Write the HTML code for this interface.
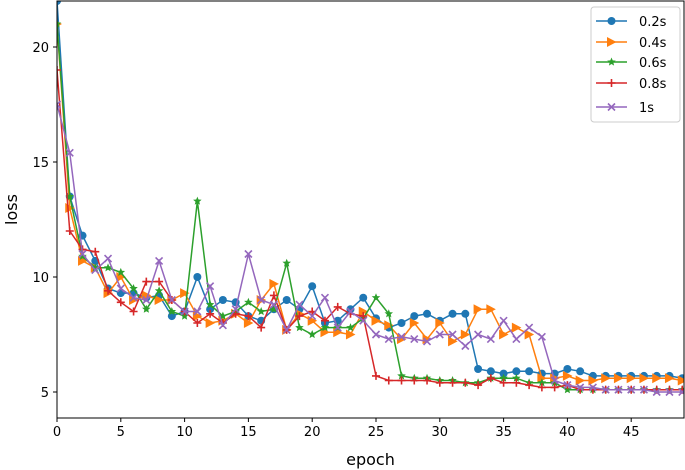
<!DOCTYPE html>
<html><head><meta charset="utf-8"><style>
body{margin:0;background:#fff}
svg{display:block;font-family:"DejaVu Sans","Liberation Sans",sans-serif}
</style></head><body>
<svg id="chart" width="685" height="470">
<g id="plot"></g>
<g id="axes"></g>
<g id="legend"></g>
</svg>
<script>
const epochs = Array.from({length:50},(_,i)=>i);
const s02 = [22,13.5,11.8,10.7,9.5,9.3,9.3,9.1,9.2,8.3,8.5,10,8.6,9,8.9,8.3,8.1,8.6,9,8.6,9.6,8,8.1,8.6,9.1,8.2,7.8,8,8.3,8.4,8.1,8.4,8.4,6,5.9,5.8,5.9,5.9,5.8,5.8,6,5.9,5.7,5.7,5.7,5.7,5.7,5.7,5.7,5.6];
const s04 = [21,13,10.7,10.4,9.3,10,9,9.2,9,9,9.3,8.3,8,8.1,8.4,8,9,9.7,7.7,8.4,8.1,7.6,7.6,7.5,8.5,8.1,7.9,7.3,8,7.3,8,7.2,7.5,8.6,8.6,7.5,7.8,7.5,5.6,5.6,5.7,5.5,5.5,5.6,5.6,5.6,5.6,5.6,5.6,5.5];
const s06 = [21,13.5,10.9,10.4,10.4,10.2,9.5,8.6,9.4,8.5,8.3,13.3,8.8,8.3,8.5,8.9,8.5,8.6,10.6,7.8,7.5,7.8,7.8,7.8,8.2,9.1,8.4,5.7,5.6,5.6,5.5,5.5,5.4,5.4,5.6,5.6,5.6,5.4,5.4,5.4,5.1,5.1,5.1,5.1,5.1,5.1,5.1,5.1,5.1,5.1];
const s08 = [19,12,11.2,11.1,9.4,8.9,8.5,9.8,9.8,9,8.5,8,8.4,8,8.4,8.3,7.8,9.2,7.7,8.3,8.5,8.1,8.7,8.4,8.3,5.7,5.5,5.5,5.5,5.5,5.4,5.4,5.4,5.3,5.6,5.4,5.4,5.3,5.2,5.2,5.3,5.1,5.1,5.1,5.1,5.1,5.1,5.1,5.1,5.1];
const s1 = [17.5,15.4,11,10.3,10.8,9.5,9.1,9,10.7,9,8.5,8.5,9.6,7.9,8.6,11,9,8.8,7.7,8.8,8.3,9.1,7.8,8.5,8.1,7.5,7.3,7.4,7.3,7.2,7.5,7.5,7,7.5,7.3,8.1,7.3,7.8,7.4,5.5,5.3,5.2,5.2,5.1,5.1,5.1,5.1,5.0,5.0,5.0];
const xTicks = [0,5,10,15,20,25,30,35,40,45];
const yTicks = [5,10,15,20];
const seriesNames = ['0.2s','0.4s','0.6s','0.8s','1s'];

const NS='http://www.w3.org/2000/svg';
const L=57,R=684,T=1,B=418;
const x=v=>L+v*12.76;
const y=v=>392-(v-5)*23;
function mk(tag,attrs,parent){const e=document.createElementNS(NS,tag);for(const k in attrs)e.setAttribute(k,attrs[k]);parent.appendChild(e);return e;}
const plot=document.getElementById('plot'),axes=document.getElementById('axes'),leg=document.getElementById('legend');
const colors=['#1f77b4','#ff7f0e','#2ca02c','#d62728','#9467bd'];
const markers=['o','>','*','+','x'];
function marker(type,cx,cy,c,g){
  let e;
  if(type==='o'){e=mk('circle',{cx,cy,r:4,fill:c},g);}
  else if(type==='>'){e=mk('polygon',{points:`${cx-4.5},${cy-5} ${cx+5},${cy} ${cx-4.5},${cy+5}`,fill:c},g);}
  else if(type==='*'){let p=[];for(let i=0;i<10;i++){const r=i%2?2:4.5,a=-Math.PI/2+i*Math.PI/5;p.push((cx+r*Math.cos(a)).toFixed(1)+','+(cy+r*Math.sin(a)).toFixed(1));}e=mk('polygon',{points:p.join(' '),fill:c},g);}
  else if(type==='+'){e=mk('path',{d:`M${cx-4},${cy}H${cx+4}M${cx},${cy-4}V${cy+4}`,stroke:c,'stroke-width':1.6},g);}
  else {e=mk('path',{d:`M${cx-3.5},${cy-3.5}L${cx+3.5},${cy+3.5}M${cx-3.5},${cy+3.5}L${cx+3.5},${cy-3.5}`,stroke:c,'stroke-width':1.6},g);}
  return e;
}
const clip=mk('clipPath',{id:'cp'},mk('defs',{},document.getElementById('chart')));
mk('rect',{x:L,y:T,width:R-L,height:B-T},clip);
plot.setAttribute('clip-path','url(#cp)');
[s02,s04,s06,s08,s1].forEach((s,i)=>{
  const g=mk('g',{},plot);
  
  
  const l=mk('polyline',{points:s.map((v,j)=>x(epochs[j])+','+y(v)).join(' '),fill:'none',stroke:colors[i],'stroke-width':1.5},g);
  
  
  s.forEach((v,j)=>{const m=marker(markers[i],x(epochs[j]),y(v),colors[i],g);
    
    });
});
mk('rect',{x:L,y:T,width:R-L,height:B-T,fill:'none',stroke:'#000','stroke-width':1},axes);
xTicks.forEach(t=>{mk('line',{x1:x(t),x2:x(t),y1:B,y2:B+4,stroke:'#000'},axes);
  const tx=mk('text',{x:x(t),y:B+18,'text-anchor':'middle','font-size':13},axes);tx.textContent=t;
  
  });
yTicks.forEach(t=>{mk('line',{x1:L-4,x2:L,y1:y(t),y2:y(t),stroke:'#000'},axes);
  const tx=mk('text',{x:L-8,y:y(t)+5,'text-anchor':'end','font-size':13},axes);tx.textContent=t;
  
  });
const xl=mk('text',{x:(L+R)/2,y:465,'text-anchor':'middle','font-size':16},axes);xl.textContent='epoch';


const yl=mk('text',{x:0,y:0,'text-anchor':'middle','font-size':16,transform:`translate(17,${(T+B)/2}) rotate(-90)`},axes);yl.textContent='loss';


mk('rect',{x:591,y:7,width:89,height:115,rx:3,fill:'#fff',stroke:'#ccc'},leg);
const ly=[21,42,62,83,107];
seriesNames.forEach((n,i)=>{
  const g=mk('g',{},leg);
  
  
  mk('line',{x1:596,x2:627,y1:ly[i],y2:ly[i],stroke:colors[i],'stroke-width':1.5},g);
  marker(markers[i],611.5,ly[i],colors[i],g);
  const t=mk('text',{x:639,y:ly[i]+5,'font-size':13},g);t.textContent=n;
});
</script>
</body></html>
